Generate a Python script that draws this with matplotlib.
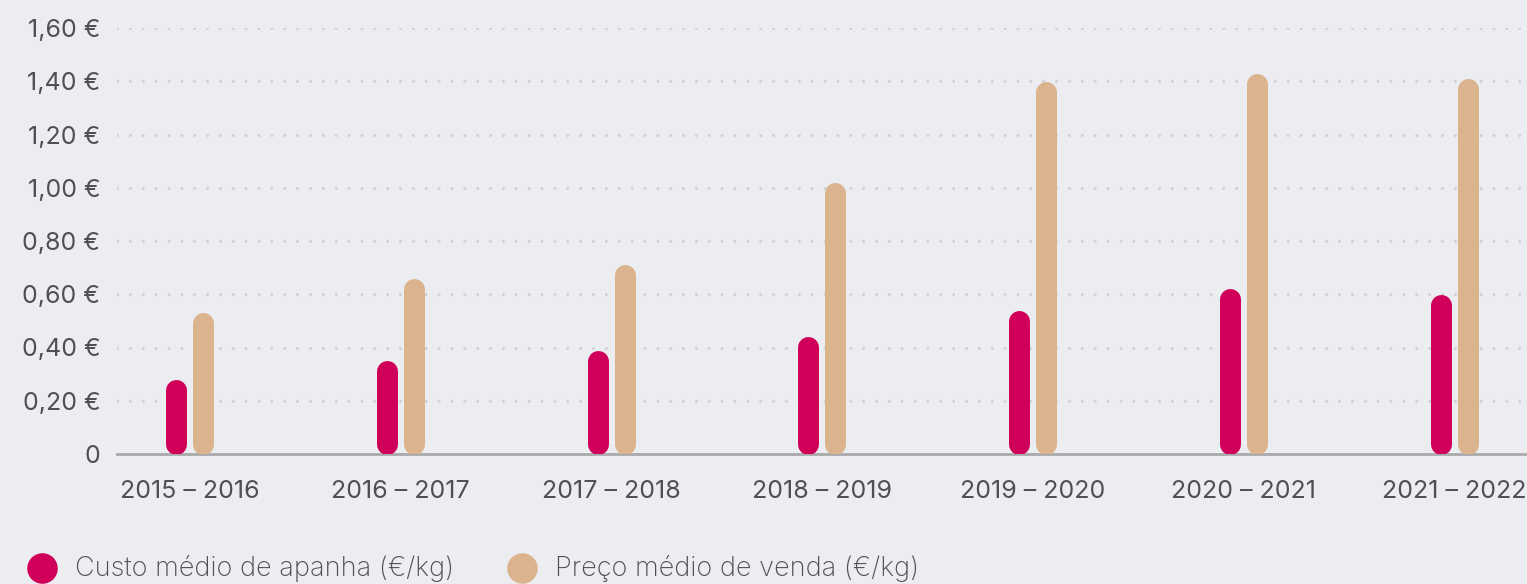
import numpy as np
import matplotlib
matplotlib.use("Agg")
import matplotlib.pyplot as plt
from matplotlib.lines import Line2D

# dados (€/kg)
safras = ["2015 – 2016", "2016 – 2017", "2017 – 2018", "2018 – 2019",
          "2019 – 2020", "2020 – 2021", "2021 – 2022"]
custo_apanha = [0.28, 0.35, 0.39, 0.44, 0.54, 0.62, 0.60]
preco_venda = [0.53, 0.66, 0.71, 1.02, 1.40, 1.43, 1.41]
yticks = [0, 0.2, 0.4, 0.6, 0.8, 1.0, 1.2, 1.4, 1.6]
ylabels = ["0", "0,20 €", "0,40 €", "0,60 €", "0,80 €", "1,00 €", "1,20 €", "1,40 €", "1,60 €"]
legenda = ["Custo médio de apanha (€/kg)", "Preço médio de venda (€/kg)"]

BG = "#ECEDF1"; ROSA = "#D0005A"; BEGE = "#DBB38D"; TXT = "#4F5055"
plt.rcParams["font.family"] = ["Inter", "DejaVu Sans"]

W, H, DPI = 1527, 584, 100
fig = plt.figure(figsize=(W / DPI, H / DPI), dpi=DPI, facecolor=BG)
ax = fig.add_axes([117 / W, 1 - 454 / H, 1 - 117 / W, (454 - 28) / H], facecolor=BG)
ax.set_ylim(0, 1.6); ax.set_xlim(-0.344, 6.345)

bar_px = 21
lw = bar_px * 72 / DPI
r = (bar_px / 2) / ((454 - 28) / 1.6)      # raio do topo arredondado em unidades de dados
off = 0.064
x = np.arange(len(safras))
for xi, c, p in zip(x, custo_apanha, preco_venda):
    ax.plot([xi - off, xi - off], [r, c - r], color=ROSA, lw=lw, solid_capstyle="round", zorder=3)
    ax.plot([xi + off, xi + off], [r, p - r], color=BEGE, lw=lw, solid_capstyle="round", zorder=3)

ax.set_yticks(yticks); ax.set_yticklabels(ylabels)
ax.set_xticks(x); ax.set_xticklabels(safras)
ax.tick_params(axis="both", length=0, labelcolor=TXT)
ax.tick_params(axis="y", pad=12, labelsize=18)
ax.tick_params(axis="x", pad=19, labelsize=18)
for yv in yticks[1:]:
    ax.axhline(yv, color="#D0D1D5", lw=2.2, ls=(0, (0.01, 4.2)), dash_capstyle="round", zorder=1)
for s in ["top", "right", "left"]:
    ax.spines[s].set_visible(False)
ax.spines["bottom"].set_color("#A9A9AC"); ax.spines["bottom"].set_linewidth(2)
ax.spines["bottom"].set_zorder(2)

# legenda manual
for cx, tx, cor, lab in [(42, 75, ROSA, legenda[0]), (522, 555, BEGE, legenda[1])]:
    fig.add_artist(Line2D([cx / W], [1 - 568 / H], marker="o", ms=22, color=cor,
                          markeredgewidth=0, transform=fig.transFigure))
    fig.text(tx / W, 1 - 569 / H, lab, fontsize=19.5, color=TXT, va="center", ha="left",
             fontweight="light")

fig.savefig("out.png", dpi=DPI, facecolor=BG)
